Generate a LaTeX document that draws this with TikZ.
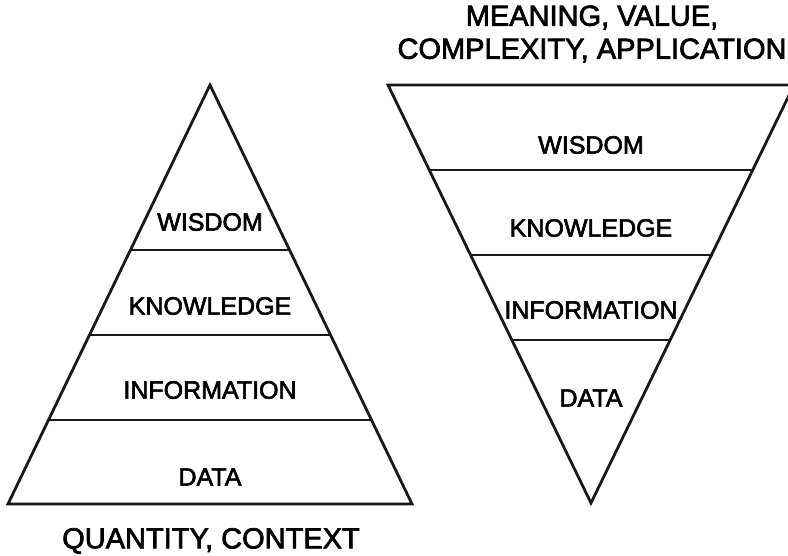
\documentclass[tikz,border=0pt]{standalone}
\usepackage{fontspec}
\setmainfont{Liberation Sans}
\newfontfamily\labfont{Liberation Sans}[FakeBold=2.4]
\begin{document}
\begin{tikzpicture}[x=1pt,y=-1pt,
  edge/.style={line width=2.8pt,line join=miter,color=black!90},
  divider/.style={line width=2.4pt,color=black!90},
  lvl/.style={font=\labfont\fontsize{25}{30}\selectfont,inner sep=0pt,anchor=center},
  head/.style={font=\labfont\fontsize{29}{33}\selectfont,inner sep=0pt,align=center}]
\useasboundingbox (0,0) rectangle (788,556);
% left pyramid
\coordinate (la) at (210,85);
\coordinate (lbl) at (8,504);
\coordinate (lbr) at (412,504);
\draw[edge] (la) -- (lbr) -- (lbl) -- cycle;
\foreach \y in {250,335,420}{
  \draw[divider] ({210-(204/419)*(\y-85)},\y) -- ({210+(204/419)*(\y-85)},\y);
}
\node[lvl] (lw) at (210,222) {WISDOM};
\node[lvl] (lk) at (210,306) {KNOWLEDGE};
\node[lvl] (li) at (210,390) {INFORMATION};
\node[lvl] (ld) at (210,477) {DATA};
\node[head] (lq) at (211,541) {QUANTITY, CONTEXT};
% right inverted pyramid
\coordinate (rtl) at (388,85);
\coordinate (rtr) at (794,85);
\coordinate (ra) at (591,503);
\draw[edge] (rtl) -- (rtr) -- (ra) -- cycle;
\foreach \y in {170,255,340}{
  \draw[divider] ({591-(203/418)*(503-\y)},\y) -- ({591+(203/418)*(503-\y)},\y);
}
\node[lvl] (rw) at (591,145) {WISDOM};
\node[lvl] (rk) at (591,228) {KNOWLEDGE};
\node[lvl] (ri) at (591,310) {INFORMATION};
\node[lvl] (rd) at (591,398) {DATA};
\node[head] (rq) at (592,34) {MEANING, VALUE,\\COMPLEXITY, APPLICATION};
\end{tikzpicture}
\end{document}
